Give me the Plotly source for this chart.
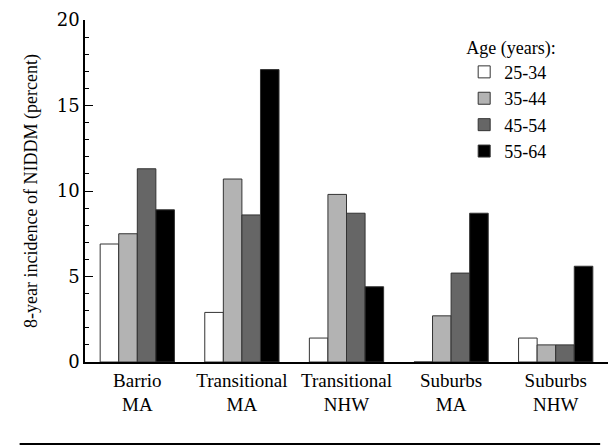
import plotly.graph_objects as go

categories = ["Barrio<br>MA", "Transitional<br>MA", "Transitional<br>NHW", "Suburbs<br>MA", "Suburbs<br>NHW"]
age_groups = ["25-34", "35-44", "45-54", "55-64"]
v_25_34 = [6.9, 2.9, 1.4, 0.0, 1.4]
v_35_44 = [7.5, 10.7, 9.8, 2.7, 1.0]
v_45_54 = [11.3, 8.6, 8.7, 5.2, 1.0]
v_55_64 = [8.9, 17.1, 4.4, 8.7, 5.6]
series = [v_25_34, v_35_44, v_45_54, v_55_64]
colors = ["#ffffff", "#b3b3b3", "#666666", "#000000"]
y_ticks = [0, 5, 10, 15, 20]

SERIF = "Times New Roman"
BOLDSERIF = "DejaVu Serif"

fig = go.Figure()
for name, vals, col in zip(age_groups, series, colors):
    fig.add_trace(go.Bar(
        x=categories, y=vals, name=name,
        marker=dict(color=col, line=dict(color="#333333", width=1)),
    ))

fig.update_layout(
    width=608, height=447,
    margin=dict(l=85, r=0, t=20, b=85),
    paper_bgcolor="white", plot_bgcolor="white",
    barmode="group", bargap=0.29, bargroupgap=0,
    showlegend=True,
    legend=dict(
        title=dict(text="Age (years):", font=dict(size=18, family=SERIF)),
        x=0.725, y=0.97, xanchor="left", yanchor="top",
        font=dict(size=18, family=SERIF),
        itemwidth=30, tracegroupgap=0,
        bgcolor="rgba(0,0,0,0)",
    ),
    xaxis=dict(
        range=[-0.5, 4.5],
        showline=True, linecolor="black", linewidth=1.5,
        ticks="", showgrid=False, zeroline=False,
        tickfont=dict(size=19, family=SERIF),
    ),
    yaxis=dict(
        range=[0, 20],
        tickvals=y_ticks,
        showline=True, linecolor="black", linewidth=1.5,
        ticks="inside", ticklen=8, tickcolor="black", tickwidth=1,
        minor=dict(dtick=1, ticks="inside", ticklen=4, tickcolor="black", tickwidth=1),
        showgrid=False, zeroline=False,
        tickfont=dict(size=18, family=BOLDSERIF),
        title=dict(text="8-year incidence of NIDDM (percent)", font=dict(size=18, family=SERIF), standoff=14),
    ),
    shapes=[dict(type="line", xref="paper", yref="paper",
                 x0=-0.125, x1=0.985, y0=-0.24, y1=-0.24,
                 line=dict(color="black", width=2))],
)
fig.update_layout(font=dict(color="black"))

fig.write_html("out.html")
